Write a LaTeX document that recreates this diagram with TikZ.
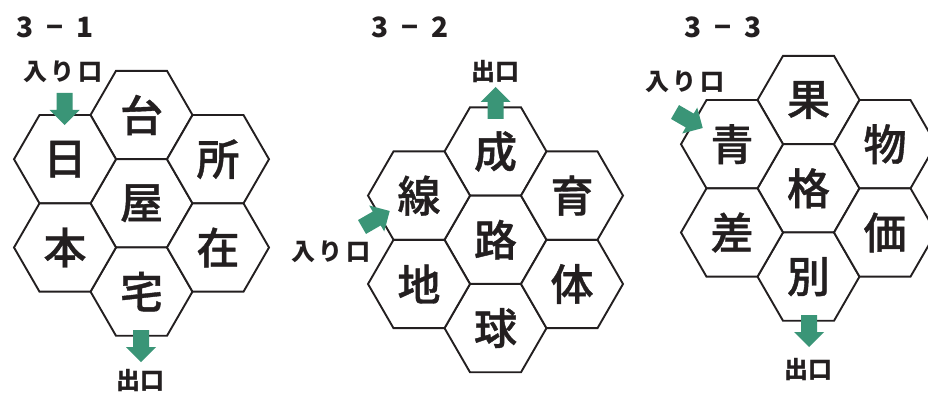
\documentclass[tikz,border=0pt]{standalone}
\usepackage{fontspec}
\newfontfamily\jp{Noto Sans CJK JP Medium}[FakeBold=0.9]
\newfontfamily\jpb{Noto Sans CJK JP}
\usetikzlibrary{shapes.geometric}
\definecolor{arrowgreen}{HTML}{3A9577}
\definecolor{ink}{HTML}{231F20}
\newcommand{\gap}{\kern3.5pt}
\tikzset{
  hexcell/.style={regular polygon, regular polygon sides=6, minimum size=102pt,
    inner sep=0pt, outer sep=0pt, draw=ink, line width=1.9pt, fill=white,
    font=\jp\fontsize{43}{43}\selectfont, text=ink},
  gatelabel/.style={font=\jpb\bfseries\fontsize{24}{24}\selectfont, text=ink, inner sep=0pt},
  titlelabel/.style={font=\jpb\bfseries\fontsize{28}{28}\selectfont, text=ink, inner sep=0pt},
  garrow/.pic={\fill[arrowgreen] (0,-8) -- (17,-8) -- (17,-15) -- (32,0) -- (17,15) -- (17,8) -- (0,8) -- cycle;}
}
\begin{document}
\begin{tikzpicture}[x=1pt,y=-1pt]
\clip (0,0) rectangle (928,393);
\fill[white] (0,0) rectangle (928,393);
% titles
\node[titlelabel] (t1) at (55,27) {3\hspace{0.45em}−\hspace{0.45em}1};
\node[titlelabel] (t2) at (410,27) {3\hspace{0.45em}−\hspace{0.45em}2};
\node[titlelabel] (t3) at (723,27) {3\hspace{0.45em}−\hspace{0.45em}3};
% group 1
\node[hexcell] (a1) at (141.5,115) {台};
\node[hexcell] (a2) at (141.5,203.3) {屋};
\node[hexcell] (a3) at (141.5,291.6) {宅};
\node[hexcell] (a4) at (65,159.2) {日};
\node[hexcell] (a5) at (65,247.5) {本};
\node[hexcell] (a6) at (218,159.2) {所};
\node[hexcell] (a7) at (218,247.5) {在};
\node[gatelabel] (a8) at (63,72) {入\gap り\gap 口};
\node[gatelabel] (a9) at (140,381) {出口};
\pic at (64.5,93) [rotate=-90] {garrow};
\pic at (141,330) [rotate=-90] {garrow};
% group 2
\node[hexcell] (b1) at (495.5,151.5) {成};
\node[hexcell] (b2) at (495.5,239.8) {路};
\node[hexcell] (b3) at (495.5,328.1) {球};
\node[hexcell] (b4) at (419,195.6) {線};
\node[hexcell] (b5) at (419,284) {地};
\node[hexcell] (b6) at (572,195.6) {育};
\node[hexcell] (b7) at (572,284) {体};
\node[gatelabel] (b8) at (495,72) {出口};
\node[gatelabel] (b9) at (331,252) {入\gap り\gap 口};
\pic at (495.5,119) [rotate=90] {garrow};
\pic at (362,227) [rotate=30] {garrow};
% group 3
\node[hexcell] (c1) at (808.5,100) {果};
\node[hexcell] (c2) at (808.5,188.3) {格};
\node[hexcell] (c3) at (808.5,276.6) {別};
\node[hexcell] (c4) at (732,144.2) {青};
\node[hexcell] (c5) at (732,232.5) {差};
\node[hexcell] (c6) at (885,144.2) {物};
\node[hexcell] (c7) at (885,232.5) {価};
\node[gatelabel] (c8) at (685,82) {入\gap り\gap 口};
\node[gatelabel] (c9) at (808,370) {出口};
\pic at (675,112) [rotate=-30] {garrow};
\pic at (809,315) [rotate=-90] {garrow};
\end{tikzpicture}
\end{document}
